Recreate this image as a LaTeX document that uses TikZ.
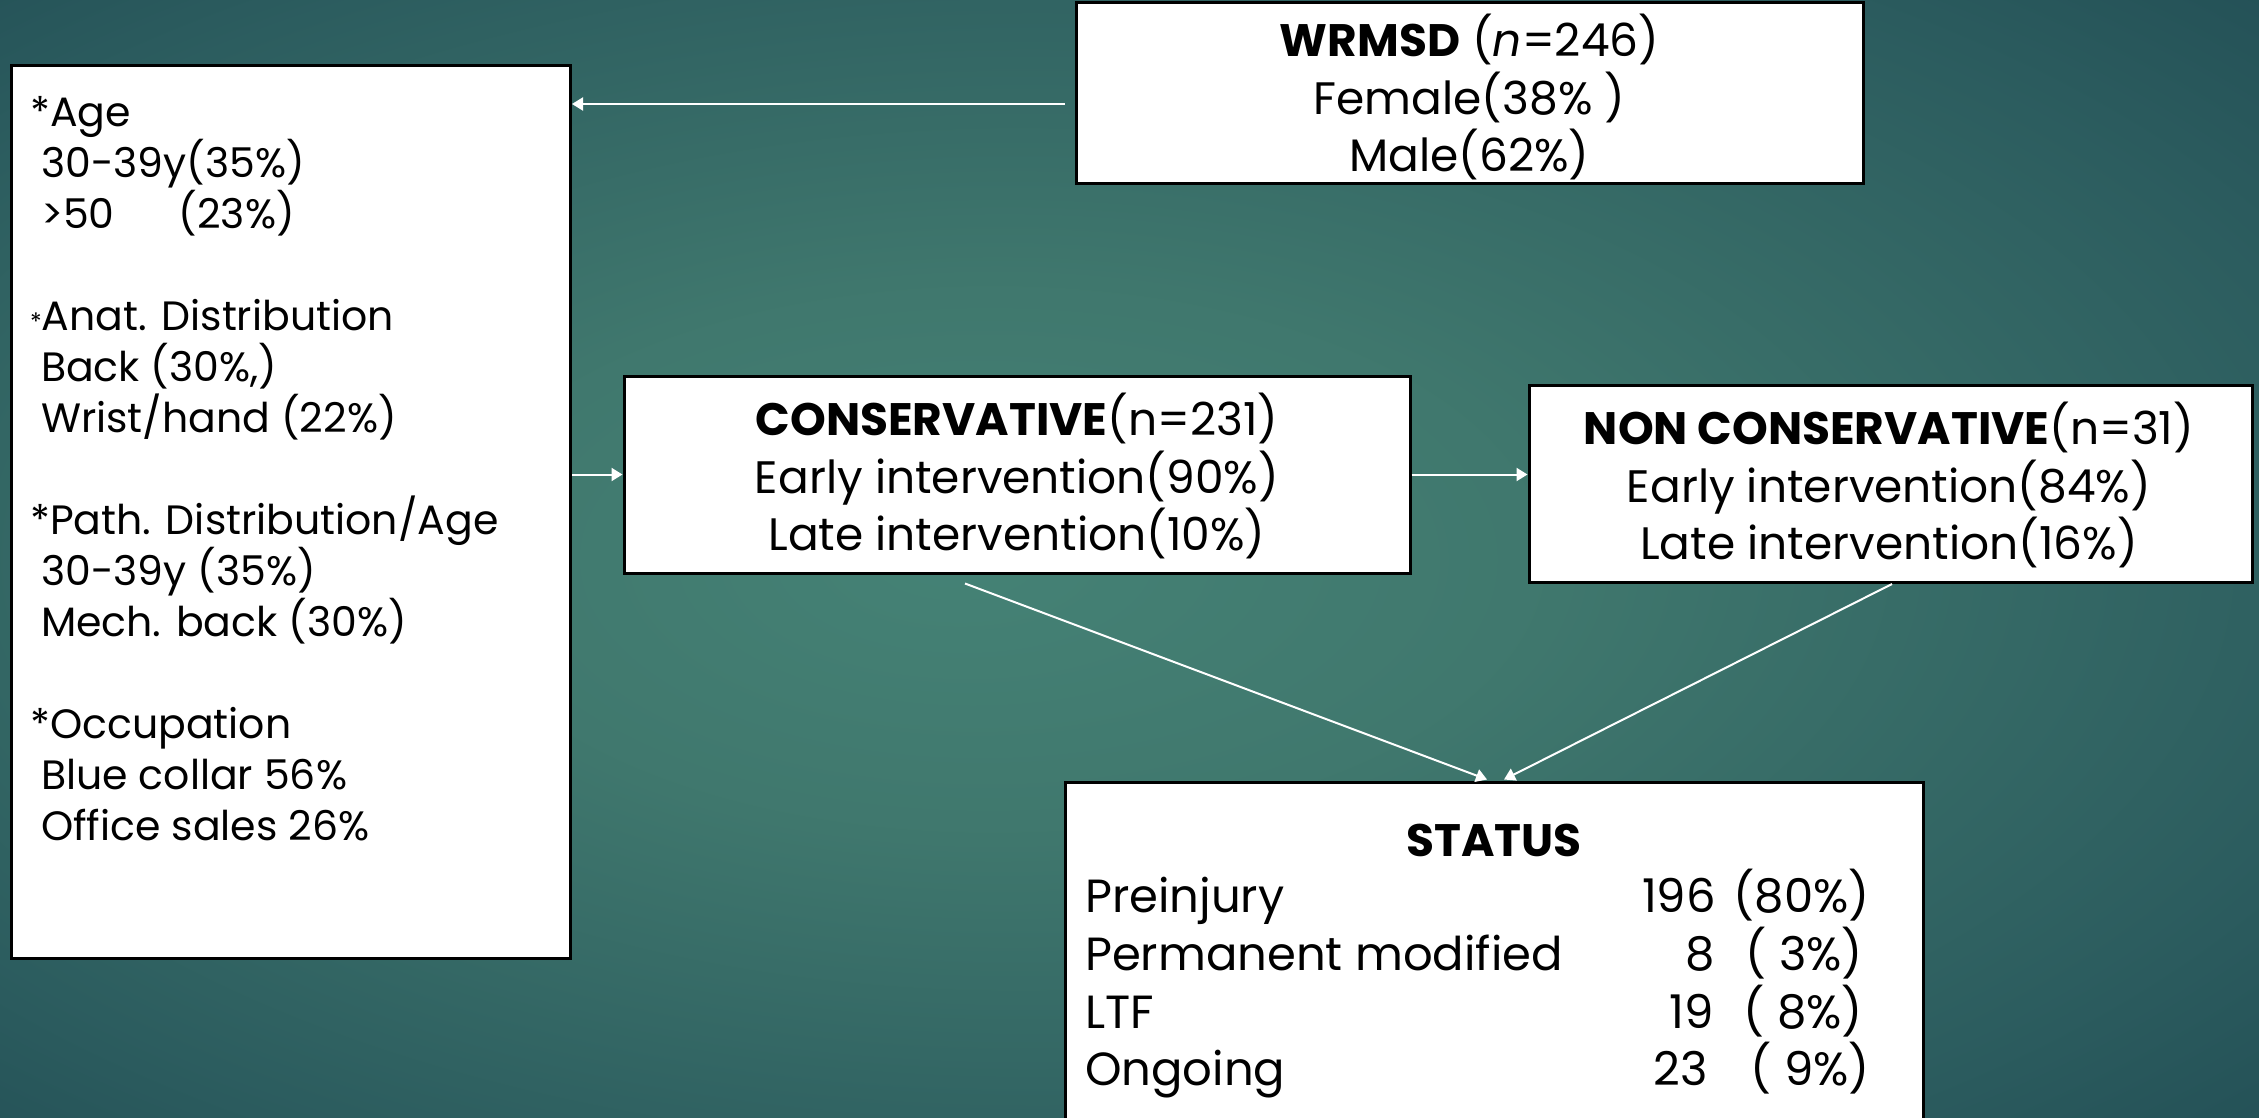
\documentclass[tikz,border=0pt]{standalone}
\usepackage{fontspec}
\setmainfont{Poppins}
\usetikzlibrary{arrows.meta,calc}
\pgfdeclareradialshading{bgshade}{\pgfpoint{-4bp}{0bp}}{rgb(0bp)=(0.27,0.51,0.46); rgb(12bp)=(0.25,0.47,0.43); rgb(30bp)=(0.17,0.36,0.37); rgb(50bp)=(0.08,0.23,0.28)}
\begin{document}
\begin{tikzpicture}[x=1pt,y=-1pt,
  box/.style={draw=black,line width=3pt,fill=white,rectangle,inner sep=0pt},
  arr/.style={draw=white,line width=2pt,-{Triangle[width=13pt,length=11pt]}},
  big/.style={font=\fontsize{45.5}{57.6}\selectfont,text=black,inner sep=0pt},
  row/.style={font=\fontsize{46.5}{57.6}\selectfont,text=black,inner sep=0pt},
  small/.style={font=\fontsize{41}{51}\selectfont,text=black,inner sep=0pt}]
\useasboundingbox (0,0) rectangle (2259,1118);
\shade[shading=bgshade] (0,0) rectangle (2259,1118);

% boxes
\node[box,minimum width=559pt,minimum height=892pt] (left) at (291,512) {};
\node[box,minimum width=787pt,minimum height=181pt] (wrmsd) at (1469.5,93.5) {};
\node[box,minimum width=786pt,minimum height=197pt] (cons) at (1017,474.5) {};
\node[box,minimum width=723pt,minimum height=197pt] (noncons) at (1890.5,483.5) {};
\node[box,minimum width=858pt,minimum height=348pt] (status) at (1494,956) {};

% texts
\node[big,align=center] (wt) at (1469.5,97) {\textbf{WRMSD} (\textit{n}=246)\\Female(38\% )\\Male(62\%)};
\node[big,align=center] (ct) at (1017,476) {\textbf{CONSERVATIVE}(n=231)\\Early intervention(90\%)\\Late intervention(10\%)};
\node[big,align=center] (nt) at (1889,485) {\textbf{NON CONSERVATIVE}(n=31)\\Early intervention(84\%)\\Late intervention(16\%)};
\node[small,align=left,anchor=north west] (lt) at (30,96) {*Age\\
 \ 30-39y(35\%)\\
 \ >50\hspace{64pt}(23\%)\\[51pt]
 {\fontsize{24}{0}\selectfont *}Anat. Distribution\\
 \ Back (30\%,)\\
 \ Wrist/hand (22\%)\\[51pt]
 *Path. Distribution/Age\\
 \ 30-39y (35\%)\\
 \ Mech. back (30\%)\\[51pt]
 *Occupation\\
 \ Blue collar 56\%\\
 \ Office sales 26\%};

\node[big,font=\bfseries\fontsize{45.5}{50}\selectfont] (st) at (1494,840) {STATUS};
\node[row,anchor=mid west] (r1) at (1085,910) {Preinjury};
\node[row,anchor=mid west] (r2) at (1085,968) {Permanent modified};
\node[row,anchor=mid west] (r3) at (1085,1026) {LTF};
\node[row,anchor=mid west] (r4) at (1085,1083) {Ongoing};
\node[row,anchor=mid east] (n1) at (1716,910) {196};
\node[row,anchor=mid east] (n2) at (1715,968) {8};
\node[row,anchor=mid east] (n3) at (1714,1026) {19};
\node[row,anchor=mid east] (n4) at (1708,1083) {23};
\node[row,anchor=mid east] (p1) at (1870,910) {(80\%)};
\node[row,anchor=mid east] (p2) at (1863,968) {(\ 3\%)};
\node[row,anchor=mid east] (p3) at (1863,1026) {(\ 8\%)};
\node[row,anchor=mid east] (p4) at (1870,1083) {(\ 9\%)};

% connectors
\coordinate (a1) at ($(wrmsd.west)+(-10,10.5)$);
\draw[arr] (a1) -- (a1 -| left.east);
\draw[arr] (left.east |- cons.west) -- (cons.west);
\draw[arr] (cons.east) -- (cons.east -| noncons.west);
\coordinate (d1) at ($(cons.south)+(-52,9)$);
\coordinate (d2) at ($(noncons.south)+(1.5,0.5)$);
\coordinate (e1) at ($(status.north)+(-7,-1)$);
\coordinate (e2) at ($(status.north)+(10,-1)$);
\draw[arr] (d1) -- (e1);
\draw[arr] (d2) -- (e2);
\end{tikzpicture}
\end{document}
